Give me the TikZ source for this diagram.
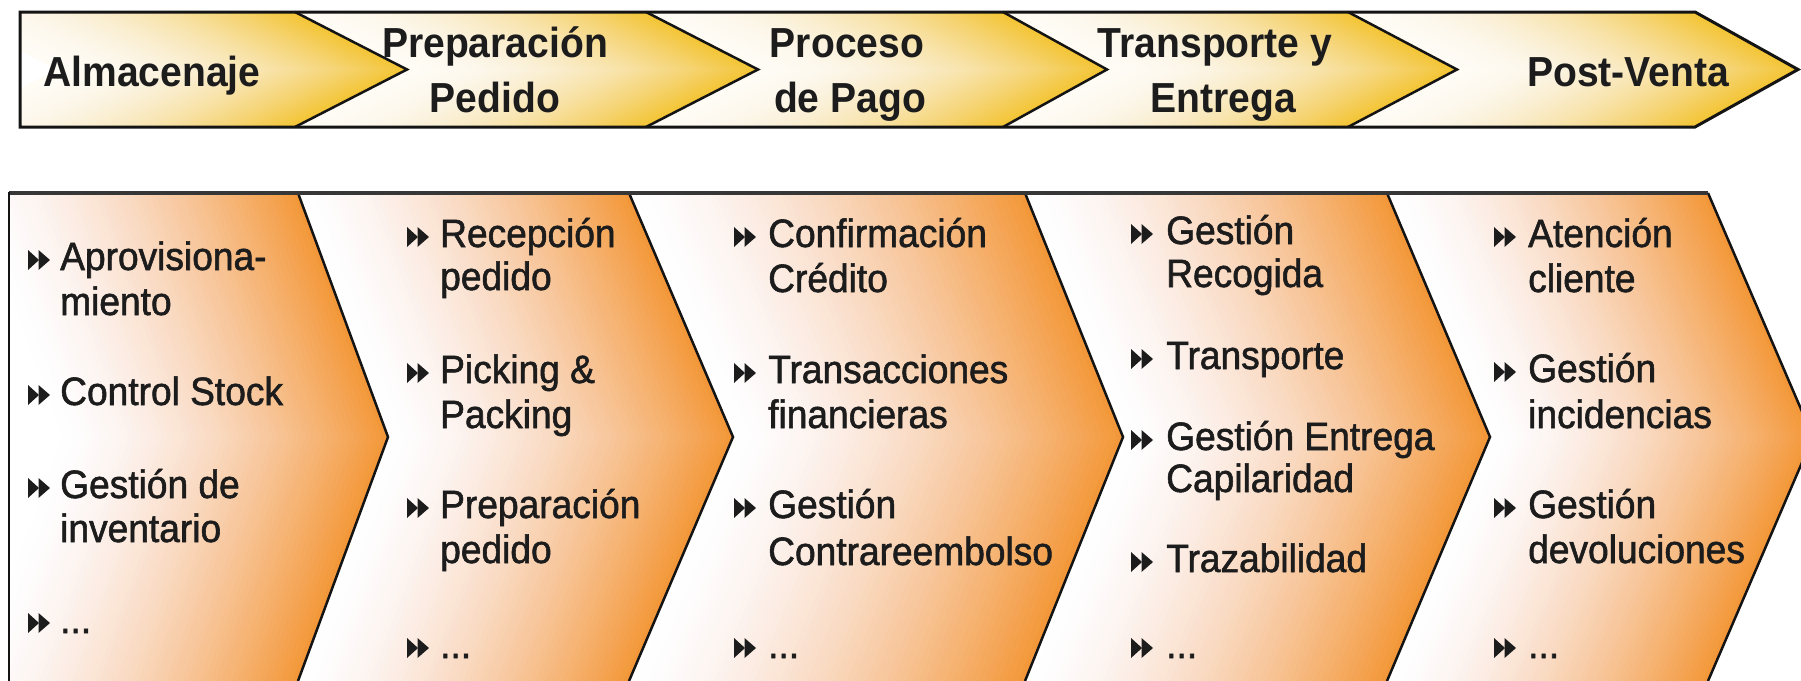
\documentclass[tikz,border=0pt]{standalone}
\usepackage{fontspec}
\setmainfont{Liberation Sans}
\newfontfamily\hdfont[FakeStretch=0.93]{Liberation Sans}
\newfontfamily\itfont[FakeStretch=0.94,FakeBold=1.4]{Liberation Sans}
\definecolor{txt}{RGB}{28,28,28}
\definecolor{rule}{RGB}{20,20,20}
\definecolor{toprule}{RGB}{55,55,55}
% yellow bands (top bar)
\newcommand{\bandY}[7]{%
  \foreach \i in {0,...,59}{%
    \pgfmathsetmacro\sa{\i/60}%
    \pgfmathsetmacro\sb{(\i+1)/60}%
    \pgfmathsetmacro\sm{(\i+0.5)/60}%
    \pgfmathsetmacro\xa{#1+\sa*(#3-#1)}%
    \pgfmathsetmacro\da{#2+\sa*(#4-#2)}%
    \pgfmathsetmacro\xb{#1+\sb*(#3-#1)+0.7}%
    \pgfmathsetmacro\db{#2+\sb*(#4-#2)}%
    \pgfmathtruncatemacro\colR{round(255-12*\sm)}%
    \pgfmathtruncatemacro\colG{round(252-56*\sm^1.6)}%
    \pgfmathtruncatemacro\colB{round(245-195*\sm^1.9)}%
    \definecolor{stripcol}{RGB}{\colR,\colG,\colB}%
    \fill[stripcol] (\xa,#5) -- (\xa+\da,#6) -- (\xa,#7) -- (\xb,#7) -- (\xb+\db,#6) -- (\xb,#5) -- cycle;
  }}
% orange bands (lower part)
\newcommand{\bandO}[7]{%
  \foreach \i in {0,...,59}{%
    \pgfmathsetmacro\sa{\i/60}%
    \pgfmathsetmacro\sb{(\i+1)/60}%
    \pgfmathsetmacro\sm{(\i+0.5)/60}%
    \pgfmathsetmacro\xa{#1+\sa*(#3-#1)}%
    \pgfmathsetmacro\da{#2+\sa*(#4-#2)}%
    \pgfmathsetmacro\xb{#1+\sb*(#3-#1)+0.7}%
    \pgfmathsetmacro\db{#2+\sb*(#4-#2)}%
    \pgfmathtruncatemacro\colR{round(255-12*\sm)}%
    \pgfmathtruncatemacro\colG{round(255-104*\sm^1.4)}%
    \pgfmathtruncatemacro\colB{round(255-200*\sm^1.6)}%
    \definecolor{stripcol}{RGB}{\colR,\colG,\colB}%
    \fill[stripcol] (\xa,#5) -- (\xa+\da,#6) -- (\xa,#7) -- (\xb,#7) -- (\xb+\db,#6) -- (\xb,#5) -- cycle;
  }}
\newcommand{\bul}[2]{%
  \fill[txt] (#1,#2-20) -- (#1+11,#2-10) -- (#1,#2) -- cycle;
  \fill[txt] (#1+10.5,#2-20) -- (#1+22,#2-10) -- (#1+10.5,#2) -- cycle;}
\begin{document}
\begin{tikzpicture}[x=1pt,y=-1pt,
  hd/.style={inner sep=0pt,anchor=base,text=txt,font=\hdfont\bfseries\fontsize{42}{50}\selectfont},
  itm/.style={inner sep=0pt,anchor=base west,text=txt,font=\itfont\fontsize{39.5}{45}\selectfont},
  chev/.style={draw=rule,line width=2.5pt,line join=miter}]
\useasboundingbox[fill=white] (0,0) rectangle (1801,680);

% ---------- top bar fills ----------
\begin{scope}
  \clip (20,12) rectangle (420,127);
  \bandY{-55}{112}{295}{112}{12}{69.5}{127}
\end{scope}
\bandY{295}{112}{646}{112}{12}{69.5}{127}
\bandY{646}{112}{1003}{104}{12}{69.5}{127}
\bandY{1003}{104}{1348}{109}{12}{69.5}{127}
\bandY{1348}{109}{1695}{103}{12}{69.5}{127}

% ---------- lower fills ----------
\begin{scope}
  \clip (9,193) rectangle (420,681);
  \bandO{-32}{90}{298}{90}{193}{437}{681}
\end{scope}
\bandO{298}{90}{629}{104}{193}{437}{681}
\bandO{629}{104}{1025}{98}{193}{437}{681}
\bandO{1025}{98}{1387}{103}{193}{437}{681}
\bandO{1387}{103}{1708}{105}{193}{437}{681}

% ---------- top bar lines ----------
\draw[chev] (295,12) -- (407,69.5) -- (295,127);
\draw[chev] (646,12) -- (758,69.5) -- (646,127);
\draw[chev] (1003,12) -- (1107,69.5) -- (1003,127);
\draw[chev] (1348,12) -- (1457,69.5) -- (1348,127);
\draw[draw=rule,line width=3pt,line join=miter] (20,12) -- (1695,12) -- (1798,69.5) -- (1695,127) -- (20,127) -- cycle;

% ---------- lower lines ----------
\draw[chev] (298,193) -- (388,437) -- (298,681);
\draw[chev] (629,193) -- (733,437) -- (629,681);
\draw[chev] (1025,193) -- (1123,437) -- (1025,681);
\draw[chev] (1387,193) -- (1490,437) -- (1387,681);
\draw[chev] (1708,193) -- (1813,437) -- (1708,681);
\draw[draw=toprule,line width=3.5pt] (9,193) -- (1708,193);
\draw[draw=rule,line width=2.5pt] (9,191.5) -- (9,681);

% ---------- headers ----------
\node[hd] (h1) at (152,86) {Almacenaje};
\node[hd] (h2a) at (495,57) {Preparación};
\node[hd] (h2b) at (495,112) {Pedido};
\node[hd] (h3a) at (847,57) {Proceso};
\node[hd] (h3b) at (850,112) {de Pago};
\node[hd] (h4a) at (1215,57) {Transporte y};
\node[hd] (h4b) at (1223,112) {Entrega};
\node[hd] (h5) at (1628,86) {Post-Venta};

% ---------- column 1 ----------
\bul{28}{270}\node[itm] (a1) at (60,270) {Aprovisiona-};
\node[itm] (a1b) at (60,315) {miento};
\bul{28}{405}\node[itm] (a2) at (60,405) {Control Stock};
\bul{28}{498}\node[itm] (a3) at (60,498) {Gestión de};
\node[itm] (a3b) at (60,542) {inventario};
\bul{28}{633}\node[itm] (a4) at (60,633) {...};

% ---------- column 2 ----------
\bul{407}{247}\node[itm] (b1) at (440,247) {Recepción};
\node[itm] (b1b) at (440,290) {pedido};
\bul{407}{383}\node[itm] (b2) at (440,383) {Picking \&};
\node[itm] (b2b) at (440,428) {Packing};
\bul{407}{518}\node[itm] (b3) at (440,518) {Preparación};
\node[itm] (b3b) at (440,563) {pedido};
\bul{407}{658}\node[itm] (b4) at (440,658) {...};

% ---------- column 3 ----------
\bul{734}{247}\node[itm] (c1) at (768,247) {Confirmación};
\node[itm] (c1b) at (768,292) {Crédito};
\bul{734}{383}\node[itm] (c2) at (768,383) {Transacciones};
\node[itm] (c2b) at (768,428) {financieras};
\bul{734}{518}\node[itm] (c3) at (768,518) {Gestión};
\node[itm] (c3b) at (768,565) {Contrareembolso};
\bul{734}{658}\node[itm] (c4) at (768,658) {...};

% ---------- column 4 ----------
\bul{1131}{244}\node[itm] (d1) at (1166,244) {Gestión};
\node[itm] (d1b) at (1166,287) {Recogida};
\bul{1131}{369}\node[itm] (d2) at (1166,369) {Transporte};
\bul{1131}{450}\node[itm] (d3) at (1166,450) {Gestión Entrega};
\node[itm] (d3b) at (1166,492) {Capilaridad};
\bul{1131}{572}\node[itm] (d4) at (1166,572) {Trazabilidad};
\bul{1131}{658}\node[itm] (d5) at (1166,658) {...};

% ---------- column 5 ----------
\bul{1494}{247}\node[itm] (e1) at (1528,247) {Atención};
\node[itm] (e1b) at (1528,292) {cliente};
\bul{1494}{382}\node[itm] (e2) at (1528,382) {Gestión};
\node[itm] (e2b) at (1528,428) {incidencias};
\bul{1494}{518}\node[itm] (e3) at (1528,518) {Gestión};
\node[itm] (e3b) at (1528,563) {devoluciones};
\bul{1494}{658}\node[itm] (e4) at (1528,658) {...};
\end{tikzpicture}
\end{document}
